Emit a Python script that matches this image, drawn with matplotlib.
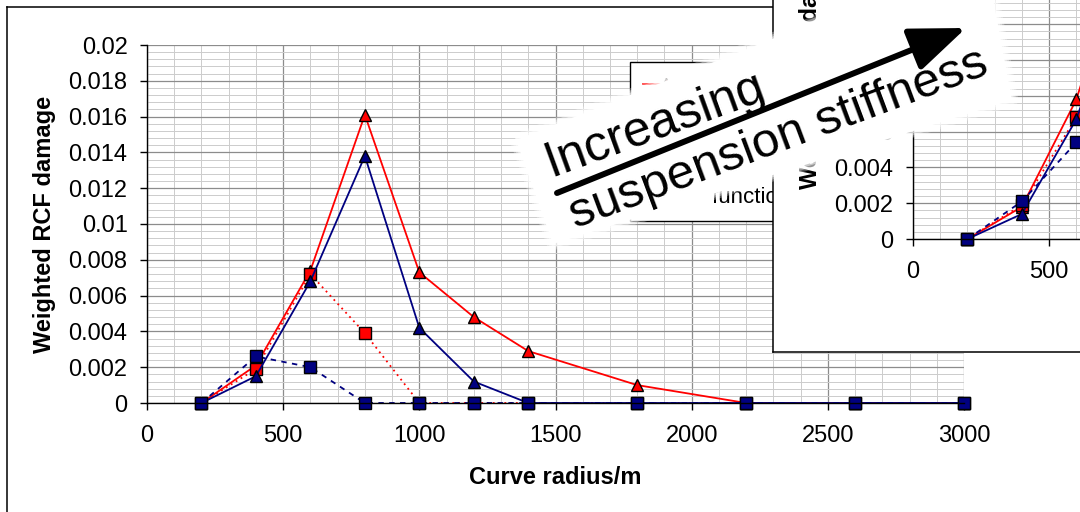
import matplotlib
matplotlib.use('Agg')
import matplotlib.pyplot as plt
from matplotlib.patches import Polygon, FancyArrowPatch
from matplotlib.ticker import MultipleLocator, FuncFormatter

plt.rcParams['font.family'] = ['Liberation Sans', 'DejaVu Sans']

RADIUS = [200, 400, 600, 800, 1000, 1200, 1400, 1800, 2200, 2600, 3000]

# main chart
RED_TRI = [0, 0.0021, 0.0074, 0.0161, 0.0073, 0.0048, 0.0029, 0.0010, 0, 0, 0]
RED_SQ = [0, 0.0019, 0.0072, 0.0039, 0, 0, 0, 0, 0, 0, 0]
BLUE_TRI = [0, 0.0015, 0.0068, 0.0138, 0.0042, 0.0012, 0, 0, 0, 0, 0]
BLUE_SQ = [0, 0.0026, 0.0020, 0, 0, 0, 0, 0, 0, 0, 0]

# chart behind (stiffer suspension), mostly off the picture
INS_RED_TRI = [0, 0.0018, 0.0078, 0.0175, 0.0105, 0.0070, 0.0045, 0.0018, 0.0003, 0, 0]
INS_RED_SQ = [0, 0.0019, 0.0068, 0.0060, 0.0012, 0, 0, 0, 0, 0, 0]
INS_BLUE_TRI = [0, 0.0014, 0.0067, 0.0155, 0.0068, 0.0030, 0.0008, 0, 0, 0, 0]
INS_BLUE_SQ = [0, 0.0021, 0.0054, 0.0035, 0.0002, 0, 0, 0, 0, 0, 0]

LABELS = ['function 1, dry', 'function 2, dry', 'function 1, wet', 'function 2, wet']

W, H = 1080, 512


def fx(px):
    return px / W


def fy(py):
    return 1 - py / H


STYLES = [
    dict(color='red', ls='-', marker='^'),
    dict(color='red', ls=(0, (1, 2.2)), marker='s'),
    dict(color='#000080', ls='-', marker='^'),
    dict(color='#000080', ls=(0, (3, 3)), marker='s'),
]


def yfmt(v, pos):
    s = '%.3f' % v
    s = s.rstrip('0').rstrip('.')
    return s


def draw_chart(fig, dx, dy, series, z, legend=False):
    frame = fig.add_axes([fx(7 + dx), fy(516 + dy), 1100 / W, 509 / H], zorder=z)
    frame.set_xticks([])
    frame.set_yticks([])
    frame.set_facecolor('white')
    for sp in frame.spines.values():
        sp.set_linewidth(1.1)
        sp.set_color('black')

    ax = fig.add_axes([fx(147 + dx), fy(403 + dy), 817 / W, 358 / H], zorder=z + 0.5)
    ax.patch.set_alpha(0)
    ax.set_xlim(0, 3000)
    ax.set_ylim(0, 0.02)
    ax.xaxis.set_major_locator(MultipleLocator(500))
    ax.xaxis.set_minor_locator(MultipleLocator(100))
    ax.yaxis.set_major_locator(MultipleLocator(0.002))
    ax.yaxis.set_minor_locator(MultipleLocator(0.0004))
    ax.yaxis.set_major_formatter(FuncFormatter(yfmt))
    ax.grid(which='major', color='#8c8c8c', lw=0.9)
    ax.grid(which='minor', color='#cccccc', lw=0.7)
    ax.set_axisbelow(True)
    for s in ['top', 'right']:
        ax.spines[s].set_visible(False)
    for s in ['left', 'bottom']:
        ax.spines[s].set_color('black')
        ax.spines[s].set_linewidth(1.0)
    ax.tick_params(which='major', direction='out', length=5, width=1, labelsize=17)
    ax.tick_params(axis='x', pad=11)
    ax.tick_params(axis='y', pad=9)
    ax.tick_params(which='minor', length=0)

    handles = []
    for vals, st, lab in zip(series, STYLES, LABELS):
        h, = ax.plot(RADIUS, vals, color=st['color'], ls=st['ls'], lw=1.3,
                     marker=st['marker'], ms=8.5, mfc=st['color'], mec='black',
                     mew=1.0, clip_on=False, label=lab)
        handles.append(h)

    ax.set_xlabel('Curve radius/m', fontsize=17, fontweight='bold')
    ax.set_ylabel('Weighted RCF damage', fontsize=17, fontweight='bold')
    ax.xaxis.label.set_va('center')
    ax.yaxis.label.set_va('center')
    ax.xaxis.set_label_coords(0.5, (403 - 478) / 358)
    ax.yaxis.set_label_coords((45 - 147) / 817, 0.5)

    if legend:
        leg = ax.legend(handles=handles, loc='upper left',
                        bbox_to_anchor=(fx(630), fy(62)), bbox_transform=fig.transFigure,
                        borderaxespad=0, fontsize=16, labelspacing=0.73,
                        handlelength=2.0, handletextpad=1.1, borderpad=0.6,
                        fancybox=False, framealpha=1, edgecolor='black')
        leg.get_frame().set_linewidth(1.0)
    return ax


fig = plt.figure(figsize=(W / 100, H / 100), dpi=100)

draw_chart(fig, 0, 0, [RED_TRI, RED_SQ, BLUE_TRI, BLUE_SQ], 0, legend=True)
draw_chart(fig, 766, -164, [INS_RED_TRI, INS_RED_SQ, INS_BLUE_TRI, INS_BLUE_SQ], 2)

# white label card laid over both charts
card = [(516, 140), (985, -45), (1012, 100), (553, 244)]
card_f = [(fx(x), fy(y)) for x, y in card]
for lw, a in [(9, 0.3), (6, 0.4), (3, 0.5)]:
    fig.add_artist(Polygon(card_f, closed=True, fill=False, edgecolor='white',
                           lw=lw, alpha=a, joinstyle='round',
                           transform=fig.transFigure, zorder=20))
fig.add_artist(Polygon(card_f, closed=True, facecolor='white', edgecolor='none',
                       transform=fig.transFigure, zorder=20.5))

fig.add_artist(FancyArrowPatch((fx(557), fy(193)), (fx(966), fy(28)),
                               transform=fig.transFigure,
                               arrowstyle='-|>,head_length=1.15,head_width=0.45',
                               mutation_scale=30, lw=4.3, color='black',
                               shrinkA=0, shrinkB=0, zorder=22))

fig.text(fx(551), fy(177), 'Increasing', fontsize=36, rotation=20,
         rotation_mode='anchor', ha='left', va='baseline', zorder=23)
fig.text(fx(575), fy(229), 'suspension stiffness', fontsize=35.5, rotation=20.5,
         rotation_mode='anchor', ha='left', va='baseline', zorder=23)

fig.savefig('out.png', dpi=100)
